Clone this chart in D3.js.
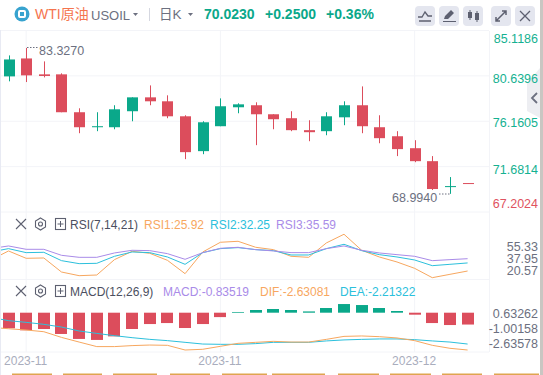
<!DOCTYPE html>
<html>
<head>
<meta charset="utf-8">
<script src="https://cdn.jsdelivr.net/npm/d3@7"></script>
<style>
  html, body { margin: 0; padding: 0; background: #fff; overflow: hidden; }
  svg { display: block; font-family: "Liberation Sans", "Noto Sans CJK SC", sans-serif; }
</style>
</head>
<body>
<div id="container"></div>
<script>
// DATA
const opens = [80.59, 82.36, 80.79, 80.79, 77.05, 75.57, 75.57, 77.15, 78.52, 78.13, 76.65, 73.21, 75.67, 77.54, 77.74, 76.85, 76.46, 75.28, 75.18, 76.55, 77.74, 75.57, 74.68, 73.50, 72.22, 69.66, 70.06];
const closes = [82.26, 80.69, 80.63, 77.05, 75.57, 75.67, 77.34, 78.52, 78.13, 76.65, 73.11, 76.06, 77.64, 77.83, 76.85, 76.36, 75.28, 75.08, 76.65, 77.74, 75.67, 74.49, 73.41, 72.22, 69.47, 69.76, 70.02];
const highs = [82.66, 83.40, 82.07, 80.89, 77.44, 77.05, 77.74, 78.52, 79.70, 78.72, 76.75, 76.16, 78.42, 77.93, 78.03, 76.85, 77.15, 76.26, 77.05, 78.13, 79.60, 76.75, 75.18, 74.29, 72.72, 70.65, 70.06];
const lows = [80.10, 80.03, 80.49, 77.05, 74.98, 75.18, 75.37, 76.16, 77.74, 76.46, 72.42, 72.91, 75.67, 76.95, 73.80, 75.37, 75.18, 74.19, 74.78, 75.77, 74.98, 73.99, 72.72, 72.12, 69.37, 68.994, 70.02];

// indicator lines start one bar before the visible window
const rsi1 = [34.58, 41.67, 35.90, 36.16, 25.13, 22.24, 22.77, 34.85, 41.41, 39.83, 34.32, 23.82, 40.88, 48.50, 49.28, 44.56, 42.72, 37.47, 36.68, 47.97, 54.80, 42.20, 36.95, 33.01, 28.02, 20.67, 23.30, 25.92];
const rsi2 = [40.88, 43.51, 40.36, 40.62, 34.06, 31.70, 31.96, 37.47, 40.88, 40.36, 36.95, 31.17, 40.36, 43.51, 44.30, 42.72, 41.93, 38.52, 38.52, 43.51, 46.92, 41.93, 38.78, 36.95, 34.58, 30.12, 31.17, 32.25];
const rsi3 = [43.51, 45.61, 42.98, 42.98, 38.26, 36.68, 36.68, 40.10, 42.20, 41.93, 39.57, 35.11, 40.36, 43.77, 44.56, 42.72, 41.67, 40.36, 40.36, 43.51, 45.61, 42.20, 40.10, 38.78, 37.47, 34.06, 34.85, 35.59];

const macdBars = [-1.10, -1.24, -1.15, -1.50, -1.85, -1.92, -1.67, -1.15, -0.80, -0.73, -1.08, -0.80, -0.31, 0.05, 0.19, 0.26, 0.19, 0.09, 0.33, 0.61, 0.54, 0.33, 0.12, -0.14, -0.73, -0.87, -0.835];
const dif = [-1.03, -1.13, -1.22, -1.34, -1.74, -2.07, -2.39, -2.39, -2.32, -2.28, -2.30, -2.63, -2.58, -2.37, -2.16, -2.09, -2.02, -2.07, -2.07, -1.88, -1.67, -1.64, -1.69, -1.78, -1.97, -2.30, -2.51, -2.63];
const dea = [-0.33, -0.56, -0.68, -0.82, -1.01, -1.29, -1.46, -1.62, -1.76, -1.88, -1.97, -2.09, -2.21, -2.23, -2.23, -2.18, -2.09, -2.09, -2.09, -1.99, -1.92, -1.88, -1.85, -1.85, -1.90, -1.99, -2.07, -2.21];

const priceTicks = [85.1186, 80.6396, 76.1605, 71.6814, 67.2024];
const rsiTicks = ["55.33", "37.95", "20.57"];
const macdTicks = ["0.63262", "-1.00158", "-2.63578"];
const dateIndex = [1, 12, 23];
const dateLabels = ["2023-11", "2023-11", "2023-12"];

const green = "#0aa88a";
const red = "#dc4d5c";
const orange = "#f7a75f";
const cyan = "#2cc0dc";
const purple = "#a98be8";
const gridColor = "#f3f4f8";
const textGray = "#6c7080";

const width = 543;
const height = 375;

const svg = d3.select("#container").append("svg")
  .attr("width", width)
  .attr("height", height);

svg.append("clipPath").attr("id", "plot")
  .append("rect").attr("x", 1).attr("y", 0).attr("width", 488).attr("height", height);

// SCALES
const xScale = d3.scaleLinear().domain([0, 26]).range([8.5, 467.6]);
const yPrice = d3.scaleLinear().domain([85.1186, 67.2024]).range([30.5, 212]);
const yRsi = d3.scaleLinear().domain([25.92, 35.59]).range([271, 258.7]);
const yRsiLabel = d3.scalePoint().domain(rsiTicks).range([246.5, 270.5]);
const yMacd = d3.scaleLinear().domain([0, -2.63]).range([312.7, 350]);
const yMacdLabel = d3.scalePoint().domain(macdTicks).range([313, 343.5]);

// GRID
const grid = svg.append("g").attr("stroke", gridColor).attr("stroke-width", 1);
grid.selectAll("line.v").data(dateIndex).join("line")
  .attr("x1", d => xScale(d)).attr("x2", d => xScale(d))
  .attr("y1", 31).attr("y2", 352);
grid.selectAll("line.h").data(priceTicks).join("line").attr("class", "h")
  .attr("x1", 1).attr("x2", 489)
  .attr("y1", d => yPrice(d)).attr("y2", d => yPrice(d));
grid.selectAll("line.p").data([279.5, 352]).join("line").attr("class", "p")
  .attr("x1", 1).attr("x2", 489)
  .attr("y1", d => d).attr("y2", d => d);
grid.append("line").attr("x1", 489.5).attr("x2", 489.5).attr("y1", 31).attr("y2", 352);
grid.append("line").attr("x1", 0.5).attr("x2", 0.5).attr("y1", 30).attr("y2", 375).attr("stroke", "#e8eaf3");

// CANDLES
const candles = svg.append("g").selectAll("g").data(d3.range(opens.length)).join("g")
  .attr("fill", i => closes[i] >= opens[i] ? green : red)
  .attr("stroke", i => closes[i] >= opens[i] ? green : red);
candles.append("line")
  .attr("x1", i => Math.round(xScale(i)) + 0.5).attr("x2", i => Math.round(xScale(i)) + 0.5)
  .attr("y1", i => yPrice(highs[i])).attr("y2", i => yPrice(lows[i]));
candles.append("rect")
  .attr("stroke", "none")
  .attr("x", i => Math.round(xScale(i)) - 5)
  .attr("width", 11)
  .attr("y", i => yPrice(Math.max(opens[i], closes[i])))
  .attr("height", i => Math.max(1, Math.abs(yPrice(opens[i]) - yPrice(closes[i]))));

// high / low notes
svg.append("line").attr("x1", 27).attr("x2", 38).attr("y1", 47.5).attr("y2", 47.5)
  .attr("stroke", textGray).attr("stroke-dasharray", "1.5 1.5");
svg.append("text").attr("x", 39).attr("y", 55).attr("font-size", 12.5).attr("fill", textGray).text("83.3270");
svg.append("line").attr("x1", 439).attr("x2", 450).attr("y1", 194).attr("y2", 194)
  .attr("stroke", textGray).attr("stroke-dasharray", "1.5 1.5");
svg.append("text").attr("x", 392).attr("y", 202).attr("font-size", 12.5).attr("fill", textGray).text("68.9940");

// RSI
function drawLine(values, y, color) {
  const line = d3.line().x((d, i) => xScale(i - 1)).y(d => y(d));
  svg.append("path").datum(values)
    .attr("clip-path", "url(#plot)")
    .attr("fill", "none").attr("stroke", color).attr("stroke-width", 1)
    .attr("d", line);
}
drawLine(rsi1, yRsi, orange);
drawLine(rsi2, yRsi, cyan);
drawLine(rsi3, yRsi, purple);

// MACD
svg.append("g").selectAll("rect").data(macdBars).join("rect")
  .attr("x", (d, i) => Math.round(xScale(i)) - 6)
  .attr("width", 12)
  .attr("y", d => Math.min(yMacd(d), yMacd(0)))
  .attr("height", d => Math.abs(yMacd(d) - yMacd(0)))
  .attr("fill", d => d >= 0 ? green : red);
drawLine(dea, yMacd, cyan);
drawLine(dif, yMacd, orange);

// collapse handle, under the price labels
svg.append("path").attr("d", "M527 83L540 68V118L527 111Z").attr("fill", "#edeef2");
svg.append("path").attr("d", "M537 93L532 98L537 103").attr("fill", "none").attr("stroke", "#6c7080").attr("stroke-width", 1.8);

// AXES
const labelX = 538;
const priceOffset = [7, 2, 1, 2.5, -9.5];
const priceAxis = svg.append("g").attr("transform", `translate(${labelX},0)`)
  .call(d3.axisRight(yPrice).tickValues(priceTicks).tickSize(0).tickFormat(d3.format(".4f")));
priceAxis.select(".domain").remove();
priceAxis.selectAll("text")
  .attr("x", 0).attr("text-anchor", "end")
  .attr("dy", (d, i) => `${priceOffset[i] + 4.5}px`)
  .attr("font-family", "Liberation Sans").attr("font-size", 12.5)
  .attr("fill", (d, i) => i === priceTicks.length - 1 ? "#e05260" : "#14b191");

svg.append("g").selectAll("text").data(rsiTicks).join("text")
  .attr("x", labelX).attr("y", d => yRsiLabel(d) + 4.5)
  .attr("text-anchor", "end").attr("font-size", 12.5).attr("fill", textGray).text(d => d);
svg.append("g").selectAll("text").data(macdTicks).join("text")
  .attr("x", labelX).attr("y", d => yMacdLabel(d) + 4.5)
  .attr("text-anchor", "end").attr("font-size", 12.5).attr("fill", textGray).text(d => d);

svg.append("g").selectAll("text").data(dateIndex).join("text")
  .attr("x", d => xScale(d) - 0.5).attr("y", 365)
  .attr("text-anchor", "middle").attr("font-size", 12).attr("fill", "#a9adbd")
  .text((d, i) => dateLabels[i]);

// HEADER
svg.append("circle").attr("cx", 22).attr("cy", 14).attr("r", 7.5).attr("fill", "#38a3cf");
svg.append("rect").attr("x", 19).attr("y", 11).attr("width", 6).attr("height", 6).attr("rx", 1)
  .attr("fill", "none").attr("stroke", "#fff").attr("stroke-width", 2);
function label(x, y, text, color, size, weight) {
  svg.append("text").attr("x", x).attr("y", y).attr("font-size", size || 12)
    .attr("font-weight", weight || "normal").attr("fill", color).text(text);
}
label(35, 19, "WTI原油", "#f5744e", 14);
label(91, 20, "USOIL", "#6c7080", 13);
svg.append("path").attr("d", "M133 13H138L135.5 16Z").attr("fill", "#6c7080");
svg.append("line").attr("x1", 149.5).attr("x2", 149.5).attr("y1", 8).attr("y2", 21).attr("stroke", "#d5d7e0");
label(159, 19, "日K", "#6c7080", 13.5);
svg.append("path").attr("d", "M188 13H193L190.5 16Z").attr("fill", "#6c7080");
label(204, 18.5, "70.0230", green, 14, "bold");
label(265, 18.5, "+0.2500", green, 14, "bold");
label(326, 18.5, "+0.36%", green, 14, "bold");

const buttonX = [415, 439, 463, 491, 515];
svg.append("g").selectAll("rect").data(buttonX).join("rect")
  .attr("x", d => d).attr("y", 6).attr("width", 20).attr("height", 20).attr("rx", 4)
  .attr("fill", "#e4e6ef");
const icon = "#5d6070";
svg.append("path").attr("d", "M418 17L422 17L425 12L428 16L432 16M419 21H431").attr("fill", "none").attr("stroke", icon).attr("stroke-width", 1.3);
svg.append("path").attr("d", "M443 21H456V22H443ZM444 19L445 16L451 10L454 13L448 19Z").attr("fill", icon);
svg.append("path").attr("d", "M468 12H472V18H468ZM475 13H479V20H475ZM469.5 10H470.5V20H469.5ZM476.5 11H477.5V22H476.5Z").attr("fill", icon);
svg.append("path").attr("d", "M496 21L506 11M502 11H506V15M496 17V21H500").attr("fill", "none").attr("stroke", icon).attr("stroke-width", 1.5);
svg.append("path").attr("d", "M520 11L530 21M530 11L520 21").attr("fill", "none").attr("stroke", icon).attr("stroke-width", 1.3);

svg.append("line").attr("x1", 1).attr("x2", 483).attr("y1", 30.5).attr("y2", 30.5).attr("stroke", gridColor);

// PANEL HEADERS
function panelHeader(y) {
  svg.append("path").attr("d", `M16 ${y - 5}L26 ${y + 5}M26 ${y - 5}L16 ${y + 5}`).attr("fill", "none").attr("stroke", icon).attr("stroke-width", 1.1);
  svg.append("path").attr("d", `M40.5 ${y - 6}L45.5 ${y - 3}V${y + 3}L40.5 ${y + 6}L35.5 ${y + 3}V${y - 3}Z`).attr("fill", "none").attr("stroke", icon).attr("stroke-width", 1.1);
  svg.append("circle").attr("cx", 40.5).attr("cy", y).attr("r", 2).attr("fill", "none").attr("stroke", icon).attr("stroke-width", 1.1);
  svg.append("rect").attr("x", 55.5).attr("y", y - 5.5).attr("width", 10).attr("height", 11).attr("fill", "none").attr("stroke", icon).attr("stroke-width", 1.1);
  svg.append("path").attr("d", `M57.5 ${y}H63.5M60.5 ${y - 3}V${y + 3}`).attr("stroke", icon).attr("stroke-width", 1);
}
panelHeader(224);
panelHeader(291);
label(70, 228.5, "RSI(7,14,21)", "#4b4f60");
label(144, 228.5, "RSI1:25.92", orange);
label(210, 228.5, "RSI2:32.25", cyan);
label(276, 228.5, "RSI3:35.59", purple);
label(70, 295.5, "MACD(12,26,9)", "#4b4f60");
label(163, 295.5, "MACD:-0.83519", purple);
label(260, 295.5, "DIF:-2.63081", orange);
label(340, 295.5, "DEA:-2.21322", cyan);

// page behind the widget
svg.append("rect").attr("x", 540).attr("y", 0).attr("width", 3).attr("height", height).attr("fill", "#c9c6c2");
const footerBars = [[12, 52], [63, 102], [113, 157], [170, 210], [222, 267], [272, 325], [338, 379], [390, 431], [442, 482], [494, 539]];
svg.append("g").selectAll("rect").data(footerBars).join("rect")
  .attr("x", d => d[0]).attr("y", 373.5).attr("width", d => d[1] - d[0]).attr("height", 1.5)
  .attr("fill", "#dfa550");
</script>
</body>
</html>
